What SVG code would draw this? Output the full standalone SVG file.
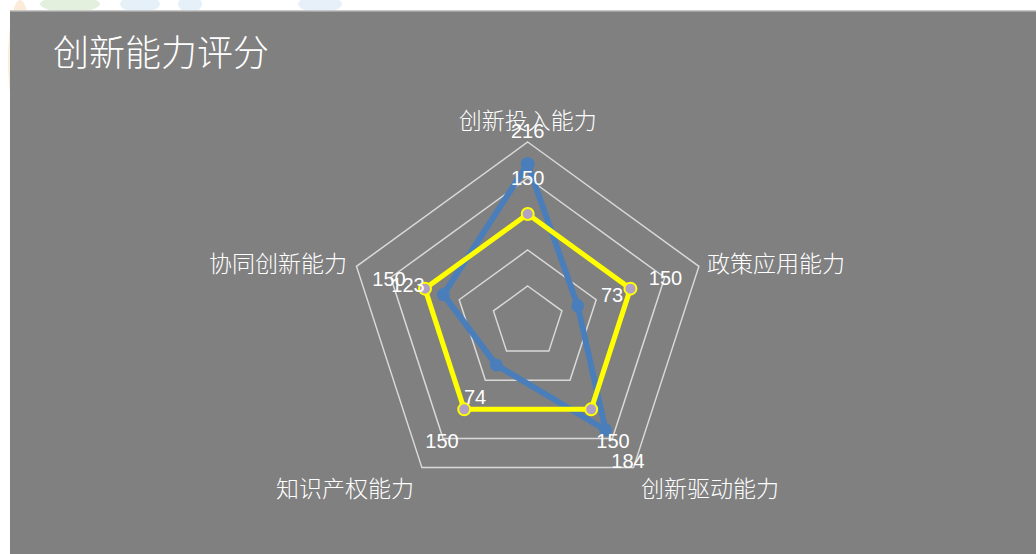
<svg xmlns="http://www.w3.org/2000/svg" width="1036" height="554" viewBox="0 0 1036 554">
<style>
.zh{font-family:"Noto Sans CJK SC","Liberation Sans",sans-serif;fill:#ffffff;font-weight:300}
.num{font-family:"Liberation Sans","Noto Sans CJK SC",sans-serif;fill:#ffffff;font-size:20px;text-anchor:middle}
.grid{fill:none;stroke:#d9d9d9;stroke-width:1.5}
.blue{fill:none;stroke:#4a7ebb;stroke-width:6;stroke-linejoin:round}
.yel{fill:none;stroke:#ffff00;stroke-width:5;stroke-linejoin:round}
.bm{fill:#4a7ebb}
.ym{fill:#b2a1c7;stroke:#ffff00;stroke-width:2}
</style>
<rect x="0" y="0" width="1036" height="554" fill="#ffffff"/>
<g opacity="0.25">
<ellipse cx="20" cy="60" rx="12" ry="60" fill="#f6b26b"/>
<ellipse cx="70" cy="4" rx="30" ry="8" fill="#93c47d"/>
<ellipse cx="140" cy="4" rx="20" ry="8" fill="#9fc5e8"/>
<ellipse cx="190" cy="4" rx="12" ry="8" fill="#9fc5e8"/>
<ellipse cx="320" cy="4" rx="22" ry="8" fill="#9fc5e8"/>
</g>
<rect x="10" y="10" width="1026" height="544" fill="#c8c8c8"/>
<rect x="10" y="11.5" width="1026" height="542.5" fill="#808080"/>
<text class="zh" x="53" y="66" font-size="36">创新能力评分</text>
<g id="grid">
<polygon class="grid" points="527.7,286 561.94,310.88 548.86,351.12 506.54,351.12 493.46,310.88"/>
<polygon class="grid" points="527.7,250 596.18,299.75 570.02,380.25 485.38,380.25 459.22,299.75"/>
<polygon class="grid" points="527.7,214 630.42,288.63 591.18,409.37 464.22,409.37 424.98,288.63"/>
<polygon class="grid" points="527.7,178 664.66,277.5 612.34,438.5 443.06,438.5 390.74,277.5"/>
<polygon class="grid" points="527.7,142 698.9,266.38 633.5,467.62 421.9,467.62 356.5,266.38"/>
</g>
<g id="connectors">
<polygon class="blue" points="527.7,164 577.7,305.8 605.6,430 496.4,365.1 443.4,294.6"/>
<polygon class="yel" points="527.7,214 630.42,288.63 591.18,409.37 464.22,409.37 424.98,288.63"/>
</g>
<g id="series-blue">
<circle class="bm" cx="527.7" cy="164" r="7"/>
<circle class="bm" cx="577.7" cy="305.8" r="6.5"/>
<circle class="bm" cx="605.6" cy="430" r="6.5"/>
<circle class="bm" cx="496.4" cy="365.1" r="6.5"/>
<circle class="bm" cx="443.4" cy="294.6" r="6.5"/>
</g>
<g id="series-yellow">
<circle class="ym" cx="527.7" cy="214" r="6"/>
<circle class="ym" cx="630.42" cy="288.63" r="6"/>
<circle class="ym" cx="591.18" cy="409.37" r="6"/>
<circle class="ym" cx="464.22" cy="409.37" r="6"/>
<circle class="ym" cx="424.98" cy="288.63" r="6"/>
</g>
<g id="axis-top"><text class="zh" x="527.7" y="129" font-size="23" text-anchor="middle">创新投入能力</text></g>
<g id="axis-right"><text class="zh" x="707" y="272" font-size="23">政策应用能力</text></g>
<g id="axis-bottom-right"><text class="zh" x="710" y="497" font-size="23" text-anchor="middle">创新驱动能力</text></g>
<g id="axis-bottom-left"><text class="zh" x="345" y="497" font-size="23" text-anchor="middle">知识产权能力</text></g>
<g id="axis-left"><text class="zh" x="347" y="272" font-size="23" text-anchor="end">协同创新能力</text></g>
<g id="labels">
<text class="num" x="527.7" y="138">216</text>
<text class="num" x="527.7" y="185">150</text>
<text class="num" x="665.5" y="285">150</text>
<text class="num" x="612" y="302">73</text>
<text class="num" x="389" y="286">150</text>
<text class="num" x="408" y="292">123</text>
<text class="num" x="475" y="404">74</text>
<text class="num" x="442" y="448">150</text>
<text class="num" x="613" y="448">150</text>
<text class="num" x="628" y="468">184</text>
</g>
</svg>
